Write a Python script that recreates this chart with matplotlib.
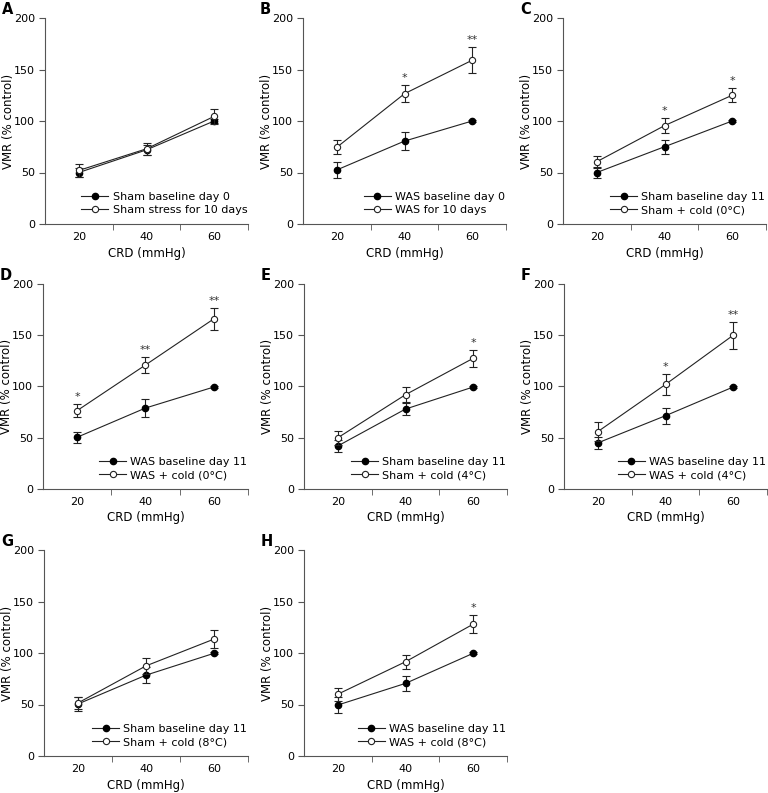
import matplotlib
matplotlib.use('Agg')
from matplotlib import pyplot as plt
from matplotlib.ticker import FixedLocator
from matplotlib.lines import Line2D

plt.rcParams['font.family'] = ['DejaVu Sans']

crd = [20, 40, 60]

# panel data: filled series (baseline), open series (treatment)
letters = ['A', 'B', 'C', 'D', 'E', 'F', 'G', 'H']
label_filled = ['Sham baseline day 0', 'WAS baseline day 0', 'Sham baseline day 11',
                'WAS baseline day 11', 'Sham baseline day 11', 'WAS baseline day 11',
                'Sham baseline day 11', 'WAS baseline day 11']
label_open = ['Sham stress for 10 days', 'WAS for 10 days', 'Sham + cold (0°C)',
              'WAS + cold (0°C)', 'Sham + cold (4°C)', 'WAS + cold (4°C)',
              'Sham + cold (8°C)', 'WAS + cold (8°C)']

filled_y = [[50, 72, 100], [52.5, 80.5, 100], [50, 75, 100], [50.5, 79, 99.5],
            [42, 78, 99.5], [45, 71.5, 99.5], [50.5, 78.5, 99.7], [49.5, 70.5, 99.7]]
filled_err = [[4, 5, 1.5], [8, 8.5, 1], [5.5, 7, 1], [5.5, 8.5, 1],
              [6, 6, 1], [5.5, 8, 1], [7, 7.5, 1], [7.5, 7, 1]]
open_y = [[52, 73, 104.5], [74.5, 126.5, 159], [60.5, 95.5, 125], [76.5, 121, 166],
          [50, 92, 127.5], [56, 102, 150], [51.5, 87.5, 113.5], [60, 91.5, 128]]
open_err = [[6, 6, 7], [7, 8, 12.5], [6, 7, 7], [6.5, 8, 10.5],
            [7, 7.5, 8.5], [9, 10, 13], [6, 8, 8.5], [6.5, 7, 9]]
stars = [['', '', ''], ['', '*', '**'], ['', '*', '*'], ['*', '**', '**'],
         ['', '', '*'], ['', '*', '**'], ['', '', ''], ['', '', '*']]

W, H = 768, 793
# axes boxes in pixels: left, right, top, bottom
boxes = [(45, 248, 18, 224), (303, 506, 18, 224), (563, 766, 18, 224),
         (43, 248, 284, 489), (304, 507, 284, 489), (564, 767, 284, 489),
         (44, 248, 550, 756), (304, 507, 550, 756)]

fig = plt.figure(figsize=(W / 100, H / 100), dpi=100)
axcol = '#555555'
lc = '#222222'

for i in range(8):
    l, r, t, b = boxes[i]
    ax = fig.add_axes([l / W, 1 - b / H, (r - l) / W, (b - t) / H])
    ax.errorbar(crd, filled_y[i], yerr=filled_err[i], fmt='-o', color=lc,
                mfc='black', mec='black', ms=4.5, lw=0.8, elinewidth=0.8,
                capsize=3, capthick=0.8, zorder=3)
    ax.errorbar(crd, open_y[i], yerr=open_err[i], fmt='-o', color=lc,
                mfc='white', mec=lc, ms=4.5, mew=0.8, lw=0.8, elinewidth=0.8,
                capsize=3, capthick=0.8, zorder=4)
    for x, y, e, s in zip(crd, open_y[i], open_err[i], stars[i]):
        if s:
            ax.text(x, y + e + 2, s, ha='center', va='bottom', fontsize=8, color='#333333')
    ax.set_xlim(10, 70)
    ax.set_ylim(0, 200)
    ax.set_yticks([0, 50, 100, 150, 200])
    ax.set_xticks(crd)
    ax.xaxis.set_minor_locator(FixedLocator([30, 50, 70]))
    ax.tick_params(axis='x', which='major', length=0, labelsize=8, pad=6)
    ax.tick_params(axis='x', which='minor', length=4, color=axcol)
    ax.tick_params(axis='y', length=4, color=axcol, labelsize=8, pad=3)
    for sp in ['top', 'right']:
        ax.spines[sp].set_visible(False)
    for sp in ['left', 'bottom']:
        ax.spines[sp].set_color(axcol)
        ax.spines[sp].set_linewidth(0.8)
    ax.set_xlabel('CRD (mmHg)', fontsize=8.5, labelpad=3)
    ax.set_ylabel('VMR (% control)', fontsize=8.5)
    ax.yaxis.set_label_coords(-30.0 / (r - l), 0.5)
    handles = [Line2D([], [], color=lc, lw=0.8, marker='o', ms=4.5, mfc='black', mec='black'),
               Line2D([], [], color=lc, lw=0.8, marker='o', ms=4.5, mfc='white', mec=lc, mew=0.8)]
    ax.legend(handles, [label_filled[i], label_open[i]], loc='lower right',
              bbox_to_anchor=(1.04, 0.0), frameon=False, fontsize=8,
              handlelength=2.4, handletextpad=0.4, labelspacing=0.25, borderpad=0.3)
    fig.text((l - 43) / W, 1 - (t - 16) / H, letters[i], fontsize=10.5,
             fontweight='bold', ha='left', va='top')

fig.savefig('out.png', dpi=100)
